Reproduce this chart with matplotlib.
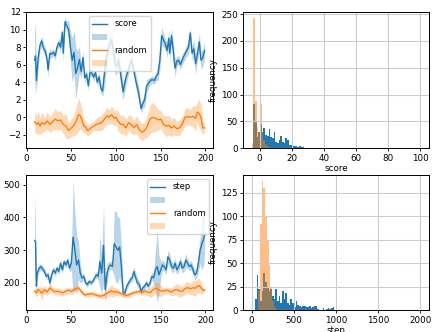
import matplotlib
matplotlib.use('Agg')
import matplotlib.pyplot as plt
import numpy as np

# ---- score over episodes (rolling mean + spread) ----
score_x = [9, 10, 11, 13, 15, 17, 19, 21, 23, 24,
           26, 28, 30, 32, 34, 36, 38, 40, 41, 43,
           45, 47, 49, 51, 53, 55, 57, 59, 61, 63,
           65, 67, 69, 71, 73, 75, 77, 79, 81, 83,
           85, 87, 89, 91, 93, 95, 97, 99, 101, 103,
           105, 108, 111, 114, 117, 120, 122, 125, 128, 130,
           132, 134, 137, 140, 143, 145, 147, 149, 151, 153,
           155, 157, 159, 160, 162, 164, 166, 168, 170, 172,
           175, 178, 181, 183, 185, 187, 189, 191, 193, 195,
           197, 199]
score_mean = [6.5, 7.0, 4.2, 6.8, 8.2, 8.7, 7.8, 7.5, 6.5, 5.4,
              7.3, 7.2, 7.4, 7.0, 8.0, 8.5, 8.0, 9.7, 7.3, 10.9,
              10.4, 10.0, 8.0, 6.5, 7.4, 5.0, 5.6, 6.6, 5.2, 6.8,
              4.5, 4.9, 3.6, 5.2, 5.0, 4.6, 5.1, 4.0, 4.6, 3.3,
              3.0, 5.0, 6.8, 7.6, 8.4, 8.8, 7.5, 6.0, 5.8, 6.5,
              5.0, 2.9, 4.5, 5.5, 6.5, 5.3, 4.2, 2.9, 1.0, 1.6,
              2.0, 3.5, 4.0, 4.3, 4.2, 4.7, 5.0, 6.5, 9.3, 8.8,
              8.4, 7.6, 9.0, 7.3, 9.3, 7.5, 5.6, 6.4, 6.5, 6.0,
              6.8, 7.4, 8.0, 9.6, 7.3, 7.8, 6.1, 7.2, 8.6, 6.5,
              6.8, 7.6]
score_err = [4.0, 3.0, 1.5, 1.0, 0.6, 0.5, 0.5, 0.5, 0.6, 0.8,
             0.6, 0.4, 0.4, 0.5, 0.4, 0.5, 0.6, 0.5, 1.0, 0.5,
             0.6, 1.0, 1.8, 2.5, 2.5, 3.0, 2.0, 1.5, 0.8, 0.8,
             0.6, 0.5, 0.6, 0.5, 0.4, 0.5, 0.4, 0.5, 0.5, 0.6,
             0.6, 1.5, 1.5, 1.0, 0.8, 0.8, 1.0, 1.2, 0.8, 0.8,
             1.2, 1.0, 0.8, 0.6, 0.8, 0.6, 0.8, 0.8, 0.5, 0.6,
             0.8, 0.8, 0.5, 0.4, 0.4, 0.5, 0.8, 1.2, 1.0, 0.8,
             0.6, 0.8, 0.8, 1.0, 0.8, 1.2, 1.0, 0.6, 0.5, 0.5,
             0.6, 0.6, 0.8, 0.6, 0.8, 1.0, 1.2, 0.8, 1.0, 1.0,
             1.0, 1.0]

rand_x = [9, 11, 13, 15, 17, 20, 23, 26, 29, 32,
          35, 38, 41, 44, 47, 50, 53, 56, 58, 60,
          62, 64, 66, 68, 70, 72, 75, 78, 81, 84,
          87, 90, 92, 95, 98, 100, 102, 105, 108, 111,
          114, 117, 120, 123, 126, 129, 132, 135, 138, 141,
          144, 147, 150, 153, 156, 159, 162, 165, 168, 171,
          174, 177, 180, 183, 186, 189, 191, 193, 195, 197,
          199]
rand_score_mean = [-0.5, -0.8, -0.6, -1.0, -0.6, -0.8, -0.4, -0.8, -0.5, -0.2,
                   -0.4, -0.3, -0.8, -1.0, -1.5, -1.2, -0.9, -0.3, 0.3, 0.2,
                   -0.3, -1.0, -1.1, -1.5, -1.4, -1.2, -1.0, -0.8, -0.7, -0.6,
                   -0.2, 0.2, 0.0, 0.3, -0.1, 0.0, -0.4, -0.8, -0.8, -1.2,
                   -0.6, -0.8, -1.2, -0.8, -1.4, -1.7, -1.5, -1.0, -0.2, 0.0,
                   -0.1, -0.3, -0.2, -0.8, -1.0, -0.9, -1.2, -1.0, -1.3, -1.2,
                   -0.8, 0.0, 0.1, 0.0, 0.1, -0.1, 0.6, 0.4, 0.0, -1.2,
                   -1.2]
rand_score_err = [1.2, 1.0, 1.3, 1.0, 1.2, 0.8, 1.0, 0.9, 1.0, 1.2,
                  1.0, 1.1, 1.0, 1.4, 0.9, 1.0, 1.2, 1.6, 1.9, 1.5,
                  1.2, 0.8, 0.7, 0.6, 0.6, 0.6, 0.5, 0.7, 0.8, 0.9,
                  0.9, 1.0, 0.8, 1.0, 0.9, 0.8, 1.2, 1.0, 1.1, 1.0,
                  0.9, 1.0, 0.8, 1.0, 1.0, 1.0, 0.9, 1.3, 1.6, 1.7,
                  1.5, 1.2, 1.0, 1.0, 1.2, 1.1, 1.0, 1.0, 0.8, 0.9,
                  0.8, 1.0, 1.0, 0.9, 1.2, 1.4, 1.2, 1.6, 1.5, 0.8,
                  0.4]

# ---- steps over episodes ----
step_x = [9, 10, 11, 12, 14, 16, 18, 20, 22, 24,
          26, 28, 30, 32, 34, 36, 38, 40, 42, 44,
          46, 48, 50, 52, 54, 56, 58, 60, 62, 64,
          66, 68, 70, 72, 74, 76, 78, 80, 82, 84,
          86, 88, 90, 92, 94, 96, 98, 100, 102, 104,
          106, 108, 110, 112, 114, 116, 118, 120, 122, 124,
          126, 128, 130, 132, 134, 136, 138, 140, 142, 144,
          146, 148, 150, 152, 154, 156, 158, 160, 162, 164,
          166, 168, 170, 172, 174, 176, 178, 180, 182, 184,
          186, 188, 190, 192, 194, 196, 198, 199]
step_mean = [330, 325, 190, 230, 245, 250, 242, 235, 220, 225,
             200, 225, 240, 230, 245, 235, 260, 240, 265, 255,
             270, 245, 260, 340, 300, 255, 270, 230, 215, 220,
             200, 195, 205, 200, 205, 215, 225, 220, 265, 230,
             315, 180, 230, 250, 255, 250, 320, 310, 300, 310,
             250, 170, 170, 190, 200, 210, 215, 235, 215, 200,
             195, 175, 185, 190, 200, 190, 200, 220, 215, 240,
             250, 225, 240, 255, 250, 240, 280, 270, 250, 245,
             260, 240, 250, 265, 245, 250, 270, 260, 250, 255,
             240, 225, 230, 260, 300, 320, 335, 345]
step_err = [140, 60, 20, 12, 10, 10, 10, 10, 10, 10,
            12, 10, 10, 10, 10, 10, 10, 10, 10, 10,
            10, 12, 20, 175, 120, 90, 60, 30, 12, 10,
            10, 8, 8, 8, 8, 8, 10, 12, 80, 60,
            120, 40, 30, 15, 12, 12, 100, 110, 100, 90,
            60, 15, 10, 10, 10, 10, 12, 15, 15, 15,
            10, 10, 10, 10, 10, 10, 10, 12, 15, 60,
            110, 60, 25, 15, 15, 15, 20, 20, 15, 15,
            15, 15, 15, 15, 15, 15, 20, 15, 12, 15,
            15, 15, 15, 25, 40, 80, 80, 60]

rand_step_mean = [175, 170, 180, 175, 168, 180, 172, 185, 178, 173,
                  175, 172, 170, 175, 178, 174, 180, 183, 185, 178,
                  172, 165, 163, 166, 165, 168, 165, 163, 160, 160,
                  163, 168, 172, 176, 172, 174, 172, 168, 165, 162,
                  163, 167, 170, 172, 175, 170, 175, 172, 170, 178,
                  184, 180, 176, 175, 178, 176, 172, 178, 180, 175,
                  174, 182, 186, 182, 185, 184, 190, 192, 185, 178,
                  178]
rand_step_err = [10, 14, 10, 14, 18, 12, 10, 14, 10, 10,
                 10, 10, 10, 10, 8, 10, 8, 10, 8, 8,
                 7, 7, 7, 7, 8, 7, 7, 7, 8, 8,
                 10, 12, 14, 18, 14, 12, 10, 7, 7, 8,
                 8, 8, 8, 8, 8, 10, 8, 10, 14, 18,
                 18, 20, 18, 10, 10, 10, 12, 14, 18, 18,
                 14, 18, 18, 18, 22, 25, 22, 22, 18, 10,
                 7]

# ---- histograms: counts per bin, starting from the first bin ----
score_hist_range = (-5, 100)
score_counts = [0, 82, 50, 20, 30, 45, 30, 38, 25, 22,
                35, 20, 18, 30, 12, 10, 15, 22, 12, 10,
                18, 15, 5, 6, 4, 4, 3, 2, 3, 2,
                2, 1, 1, 1, 0, 0, 0, 1, 1]
rand_score_counts = [10, 242, 88, 40, 30, 83, 30, 15, 8, 3]

step_hist_range = (0, 2000)
step_counts = [0, 0, 12, 37, 22, 10, 20, 40, 30, 25,
               20, 22, 15, 12, 22, 10, 15, 8, 20, 12,
               18, 8, 5, 12, 8, 3, 10, 5, 4, 3,
               4, 4, 3, 3, 4, 2, 3, 4, 4, 1,
               0, 0, 2, 0, 1, 2, 1, 2, 3]
rand_step_counts = [0, 0, 0, 0, 20, 92, 137, 130, 100, 75,
                    48, 25, 10, 4, 2]

plt.rcParams['font.size'] = 6.3

fig = plt.figure(figsize=(4.43, 3.32), dpi=100)
ax1 = fig.add_axes([0.059, 0.554, 0.422, 0.410])
ax2 = fig.add_axes([0.549, 0.554, 0.419, 0.410])
ax3 = fig.add_axes([0.059, 0.066, 0.422, 0.407])
ax4 = fig.add_axes([0.549, 0.066, 0.419, 0.407])


def band_plot(ax, x, m, e, color):
    m = np.array(m, dtype=float)
    e = np.array(e, dtype=float)
    line, = ax.plot(x, m, color=color, lw=1.0)
    fill = ax.fill_between(x, m - e, m + e, color=color, alpha=0.3, lw=0)
    return line, fill


leg_kw = dict(fontsize=6, handlelength=1.8, handletextpad=0.9,
              borderpad=0.4, labelspacing=0.5)

l1, f1 = band_plot(ax1, score_x, score_mean, score_err, 'C0')
l2, f2 = band_plot(ax1, rand_x, rand_score_mean, rand_score_err, 'C1')
ax1.set_xlim(-0.5, 208.5)
ax1.set_ylim(-3.5, 12)
ax1.set_yticks(range(-2, 13, 2))
ax1.legend([l1, f1, l2, f2], ['score', '', 'random', ''],
           loc='upper center', **leg_kw)

l3, f3 = band_plot(ax3, step_x, step_mean, step_err, 'C0')
l4, f4 = band_plot(ax3, rand_x, rand_step_mean, rand_step_err, 'C1')
ax3.set_xlim(-0.5, 208.5)
ax3.set_ylim(117, 530)
ax3.legend([l3, f3, l4, f4], ['step', '', 'random', ''],
           loc='upper right', **leg_kw)


def hist_plot(ax, counts, rng, color, alpha):
    edges = np.histogram_bin_edges([], bins=100, range=rng)
    centers = (edges[:-1] + edges[1:]) / 2
    ax.hist(centers[:len(counts)], bins=edges, weights=counts,
            color=color, alpha=alpha)


hist_plot(ax2, score_counts, score_hist_range, 'C0', 1.0)
hist_plot(ax2, rand_score_counts, score_hist_range, 'C1', 0.5)
ax2.grid(True, color='#cccccc', lw=0.8)
ax2.set_xlabel('score', labelpad=1)
ax2.set_ylabel('frequency', labelpad=2)

hist_plot(ax4, step_counts, step_hist_range, 'C0', 1.0)
hist_plot(ax4, rand_step_counts, step_hist_range, 'C1', 0.5)
ax4.grid(True, color='#cccccc', lw=0.8)
ax4.set_xlabel('step', labelpad=1)
ax4.set_ylabel('frequency', labelpad=2)

for ax in (ax1, ax2, ax3, ax4):
    ax.tick_params(length=2.5, width=0.6, pad=1.5)
    for s in ax.spines.values():
        s.set_linewidth(0.7)

fig.savefig('out.png', dpi=100)
